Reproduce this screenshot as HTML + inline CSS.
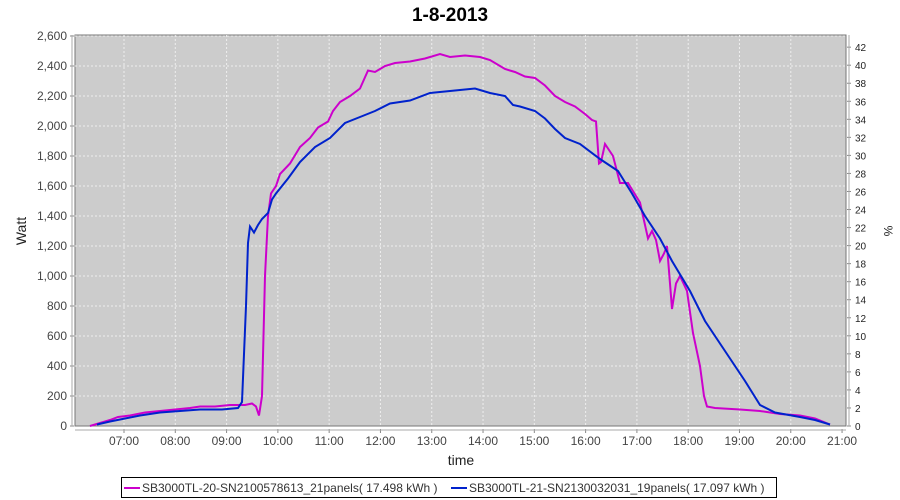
<!DOCTYPE html>
<html><head><meta charset="utf-8"><style>
body{margin:0;background:#fff;}
svg{display:block;font-family:"Liberation Sans",sans-serif;}
</style></head><body>
<svg id="s" width="900" height="500" xmlns="http://www.w3.org/2000/svg">
<rect width="900" height="500" fill="#fff"/>
<text x="450" y="21" text-anchor="middle" font-size="19" font-weight="bold" fill="#000">1-8-2013</text>
<rect x="75" y="35" width="771" height="391" fill="#cccccc" stroke="#777" stroke-width="1"/>
<g id="grid" stroke="#eeeeee" stroke-width="1" stroke-dasharray="2,2"></g>
<g id="lab" font-size="12" fill="#444"></g>
<polyline id="m" fill="none" stroke="#cc00cc" stroke-width="2"/>
<polyline id="b" fill="none" stroke="#0022cc" stroke-width="2"/>
<text x="26" y="231" font-size="14" fill="#222" text-anchor="middle" transform="rotate(-90 26 231)">Watt</text>
<text x="884" y="231" font-size="12" fill="#222" text-anchor="middle" transform="rotate(90 884 231)">%</text>
<text x="461" y="465" font-size="14" fill="#222" text-anchor="middle">time</text>
<rect x="121.5" y="477.5" width="655" height="20" fill="#fff" stroke="#000"/>
<line x1="124" y1="488" x2="140" y2="488" stroke="#cc00cc" stroke-width="2"/>
<text x="142" y="492" font-size="12" fill="#333">SB3000TL-20-SN2100578613_21panels( 17.498 kWh )</text>
<line x1="451" y1="488" x2="467" y2="488" stroke="#0022cc" stroke-width="2"/>
<text x="469" y="492" font-size="12" fill="#333">SB3000TL-21-SN2130032031_19panels( 17.097 kWh )</text>
</svg>
<script>
var NS="http://www.w3.org/2000/svg";
function el(p,t,a,txt){var e=document.createElementNS(NS,t);for(var k in a)e.setAttribute(k,a[k]);if(txt!=null)e.textContent=txt;p.appendChild(e);return e;}
var g=document.getElementById('grid'),l=document.getElementById('lab');
function yW(w){return 426-w*0.15;}
for(var w=0;w<=2600;w+=200){var y=yW(w);if(w>0)el(g,'line',{x1:75,x2:846,y1:y,y2:y});
el(l,'line',{x1:70,x2:74,y1:y,y2:y,stroke:'#888'});
el(l,'text',{x:67,y:y+4,'text-anchor':'end'},w.toLocaleString('en-US'));}
el(l,'line',{x1:72,x2:72,y1:35,y2:426,stroke:'#aaa'});
for(var h=7;h<=21;h++){var x=124+(h-7)*51.29;if(h<21)el(g,'line',{x1:x,x2:x,y1:35,y2:426});
el(l,'line',{x1:x,x2:x,y1:429,y2:433,stroke:'#888'});
el(l,'text',{x:x,y:445,'text-anchor':'middle'},(h<10?'0':'')+h+':00');}
el(l,'line',{x1:75,x2:846,y1:430,y2:430,stroke:'#aaa'});
for(var p=0;p<=42;p+=2){var y=426-p*9.02;el(l,'line',{x1:847,x2:851,y1:y,y2:y,stroke:'#888'});
el(l,'text',{x:855,y:y+4,'font-size':'10','fill':'#222'},p);}
el(l,'line',{x1:849,x2:849,y1:35,y2:426,stroke:'#aaa'});
var m=[[90,0],[100,20],[110,40],[118,60],[130,70],[145,90],[160,100],[175,110],[190,120],[200,130],[215,130],[230,140],[245,140],[252,150],[256,130],[259,70],[262,200],[265,1000],[268,1400],[271,1550],[276,1600],[280,1680],[290,1750],[300,1860],[310,1920],[318,1990],[328,2030],[333,2100],[340,2160],[350,2200],[360,2250],[368,2370],[375,2360],[385,2400],[395,2420],[410,2430],[425,2450],[440,2480],[450,2460],[465,2470],[480,2460],[490,2440],[505,2380],[515,2360],[525,2330],[535,2320],[545,2270],[555,2200],[565,2160],[575,2130],[585,2080],[592,2040],[596,2030],[599,1750],[601,1760],[605,1880],[613,1800],[620,1620],[628,1620],[640,1490],[648,1250],[652,1300],[656,1240],[660,1100],[664,1150],[667,1200],[670,950],[672,780],[676,950],[680,1000],[687,900],[693,620],[700,400],[704,200],[707,130],[715,120],[740,110],[760,100],[780,80],[800,70],[815,50],[830,10]];
var b=[[97,10],[110,30],[125,50],[140,70],[160,90],[180,100],[200,110],[222,110],[238,120],[242,160],[246,800],[248,1220],[250,1330],[254,1290],[258,1340],[262,1380],[268,1420],[272,1510],[276,1550],[288,1650],[300,1760],[315,1860],[330,1920],[345,2020],[360,2060],[375,2100],[390,2150],[410,2170],[430,2220],[445,2230],[460,2240],[475,2250],[490,2220],[505,2200],[513,2140],[520,2130],[535,2100],[545,2050],[555,1980],[565,1920],[580,1880],[600,1780],[618,1700],[632,1550],[645,1400],[660,1250],[672,1100],[690,900],[705,700],[725,500],[745,300],[760,140],[775,90],[800,60],[815,40],[830,10]];
function pts(a){return a.map(function(q){return q[0]+','+yW(q[1]).toFixed(1)}).join(' ');}
document.getElementById('m').setAttribute('points',pts(m));
document.getElementById('b').setAttribute('points',pts(b));
</script>
</body></html>
